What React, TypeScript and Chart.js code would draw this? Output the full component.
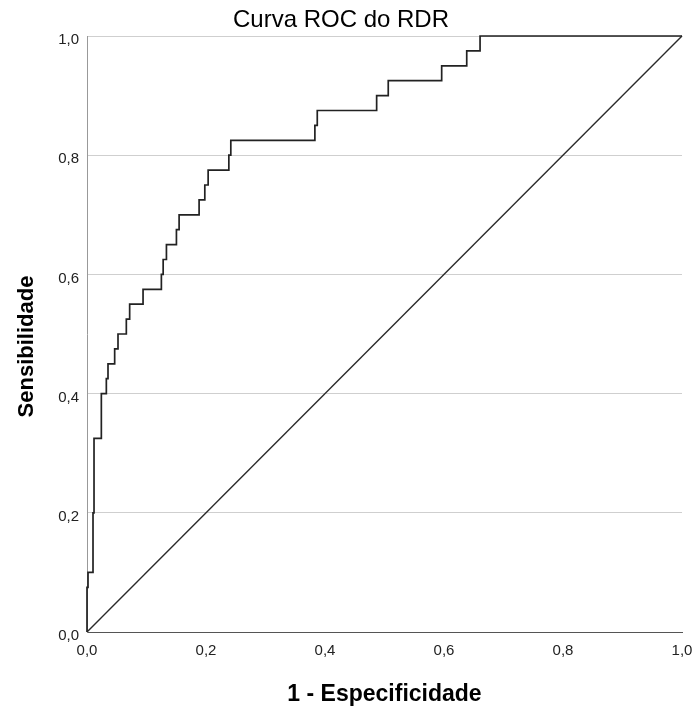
import React, { useEffect, useRef } from "react";
import { Chart, registerables } from "chart.js";
Chart.register(...registerables);

const TITLE = "Curva ROC do RDR";
const X_TITLE = "1 - Especificidade";
const Y_TITLE = "Sensibilidade";

// Positions (1 - specificity) where the curve steps up, and the sensitivity reached at each step
const STEP_FPR = [0, 0.0017, 0.0101, 0.0118, 0.0241, 0.0325, 0.0353, 0.0465, 0.0521, 0.0661, 0.0717, 0.0942, 0.125, 0.128, 0.1335, 0.1503, 0.1548, 0.1884, 0.198, 0.2036, 0.2384, 0.2417, 0.383, 0.387, 0.4868, 0.5063, 0.5961, 0.6382, 0.6606];
const STEP_TPR = [0.075, 0.1, 0.2, 0.325, 0.4, 0.425, 0.45, 0.475, 0.5, 0.525, 0.55, 0.575, 0.6, 0.625, 0.65, 0.675, 0.7, 0.725, 0.75, 0.775, 0.8, 0.825, 0.85, 0.875, 0.9, 0.925, 0.95, 0.975, 1.0];

const REF_X = [0, 1];
const REF_Y = [0, 1];

const TICKS = [0, 0.2, 0.4, 0.6, 0.8, 1.0];

const FONT = '"Liberation Sans", Arial, Helvetica, sans-serif';

const fmt = (v: number) => v.toFixed(1).replace(".", ",");

export default function App() {
  const ref = useRef<HTMLCanvasElement>(null);

  useEffect(() => {
    const canvas = ref.current;
    if (!canvas) return;

    const roc: { x: number; y: number }[] = [{ x: 0, y: 0 }];
    let prev = 0;
    STEP_FPR.forEach((f, i) => {
      roc.push({ x: f, y: prev });
      roc.push({ x: f, y: STEP_TPR[i] });
      prev = STEP_TPR[i];
    });
    roc.push({ x: 1, y: 1 });

    const diag = REF_X.map((x, i) => ({ x, y: REF_Y[i] }));

    const yTitlePlugin = {
      id: "yTitle",
      afterDraw(chart: any) {
        const { ctx, chartArea } = chart;
        ctx.save();
        ctx.font = `bold 22px ${FONT}`;
        ctx.fillStyle = "#000";
        ctx.textAlign = "center";
        ctx.textBaseline = "alphabetic";
        ctx.translate(32.5, (chartArea.top + chartArea.bottom) / 2 + 12.5);
        ctx.rotate(-Math.PI / 2);
        ctx.fillText(Y_TITLE, 0, 0);
        ctx.restore();
      },
    };

    const chart = new Chart(canvas, {
      type: "scatter",
      data: {
        datasets: [
          {
            data: roc,
            showLine: true,
            borderColor: "#222222",
            borderWidth: 1.7,
            pointRadius: 0,
            tension: 0,
            clip: false,
          },
          {
            data: diag,
            showLine: true,
            borderColor: "#2a2a2a",
            borderWidth: 1.4,
            pointRadius: 0,
            tension: 0,
            clip: false,
          },
        ],
      },
      options: {
        responsive: false,
        animation: false,
        layout: { padding: { top: 0, left: 0, right: 13, bottom: 0 } },
        plugins: {
          legend: { display: false },
          tooltip: { enabled: false },
          title: {
            display: true,
            text: TITLE,
            color: "#000",
            font: { family: FONT, size: 24, weight: "normal", lineHeight: 1.2 },
            padding: { top: 6, bottom: 1.2 },
          },
        },
        scales: {
          x: {
            type: "linear",
            min: 0,
            max: 1,
            afterFit: (s: any) => {
              s.height = 74;
              s.paddingLeft = 0;
              s.paddingRight = 0;
            },
            afterBuildTicks: (s: any) => {
              s.ticks = TICKS.map((v) => ({ value: v }));
            },
            grid: { display: false, drawTicks: false },
            border: { display: true, color: "#555", width: 1 },
            ticks: {
              padding: 10,
              color: "#222",
              font: { family: FONT, size: 15 },
              callback: (v: any) => fmt(Number(v)),
              maxRotation: 0,
            },
            title: {
              display: true,
              text: X_TITLE,
              color: "#000",
              font: { family: FONT, size: 23, weight: "bold", lineHeight: 1.0 },
              padding: { top: 0, bottom: 0 },
            },
          },
          y: {
            type: "linear",
            min: 0,
            max: 1,
            afterFit: (s: any) => {
              s.width = 87;
              s.paddingTop = 0;
              s.paddingBottom = 0;
            },
            afterBuildTicks: (s: any) => {
              s.ticks = TICKS.map((v) => ({ value: v }));
            },
            grid: {
              drawTicks: false,
              color: (c: any) => (c.tick && c.tick.value === 0 ? "rgba(0,0,0,0)" : "#cfcfcf"),
              lineWidth: 1,
            },
            border: { display: true, color: "#999", width: 1 },
            ticks: {
              padding: 8,
              labelOffset: 4,
              color: "#222",
              font: { family: FONT, size: 15 },
              callback: (v: any) => fmt(Number(v)),
            },
            title: { display: false },
          },
        },
      },
      plugins: [yTitlePlugin],
    });

    return () => chart.destroy();
  }, []);

  return (
    <div style={{ position: "fixed", left: 0, top: 0, width: 695, height: 706, background: "#fff" }}>
      <canvas ref={ref} width={695} height={706} style={{ display: "block", width: 695, height: 706 }} />
    </div>
  );
}
